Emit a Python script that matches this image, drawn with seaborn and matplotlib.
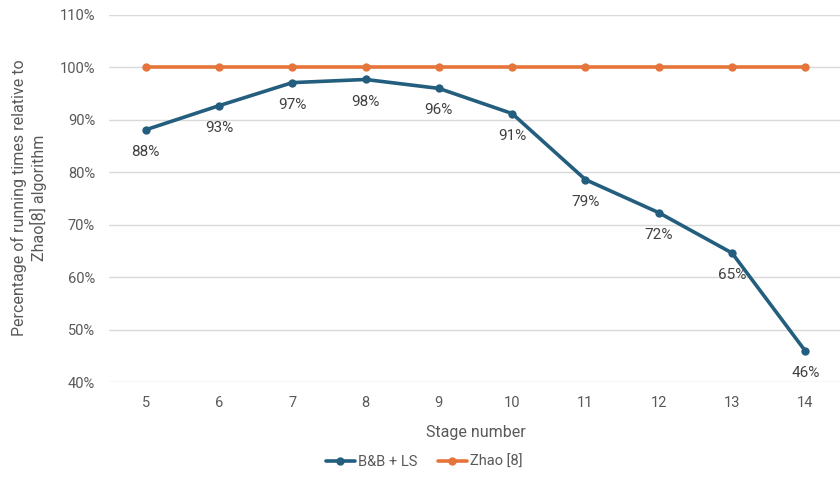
import matplotlib
matplotlib.use("Agg")
import matplotlib.pyplot as plt
import seaborn as sns
import pandas as pd
from matplotlib.ticker import PercentFormatter, FixedLocator

stages = [5, 6, 7, 8, 9, 10, 11, 12, 13, 14]
bb_ls = [0.881, 0.927, 0.971, 0.977, 0.960, 0.912, 0.786, 0.723, 0.646, 0.459]
zhao = [1.0, 1.0, 1.0, 1.0, 1.0, 1.0, 1.0, 1.0, 1.0, 1.0]
series_names = ["B&B + LS", "Zhao [8]"]
colors = ["#245E7F", "#E5753A"]

sns.set_theme(style="white")
plt.rcParams["font.family"] = ["Roboto", "DejaVu Sans"]

df = pd.DataFrame({
    "pos": list(range(len(stages))) * 2,
    "value": bb_ls + zhao,
    "series": [series_names[0]] * len(stages) + [series_names[1]] * len(stages),
})

fig = plt.figure(figsize=(8.4, 4.83), dpi=100)
ax = fig.add_axes([109 / 840, 1 - 382 / 483, (842 - 109) / 840, (382 - 15) / 483])

grid_c = "#D9D9D9"
text_c = "#595959"

for yv in [0.4, 0.5, 0.6, 0.7, 0.8, 0.9, 1.0, 1.1]:
    ax.axhline(yv, color=grid_c, lw=1.0, zorder=0)

sns.lineplot(data=df, x="pos", y="value", hue="series", palette=colors,
             marker="o", markersize=6, markeredgewidth=0, linewidth=2.6,
             ax=ax, legend=False, zorder=3)

for i, v in enumerate(bb_ls):
    ax.text(i, v - 0.042, f"{v * 100:.0f}%", ha="center", va="center",
            fontsize=11, color="#404040", zorder=4)

ax.set_xlim(-0.5, len(stages) - 0.5)
ax.set_ylim(0.4, 1.1)
ax.xaxis.set_major_locator(FixedLocator(range(len(stages))))
ax.set_xticklabels([str(s) for s in stages])
ax.yaxis.set_major_locator(FixedLocator([0.4, 0.5, 0.6, 0.7, 0.8, 0.9, 1.0, 1.1]))
ax.yaxis.set_major_formatter(PercentFormatter(1.0, decimals=0))
ax.tick_params(axis="both", length=0, labelsize=10.5, labelcolor=text_c)
ax.tick_params(axis="y", pad=10)
ax.tick_params(axis="x", pad=10)
for s in ax.spines.values():
    s.set_visible(False)

ax.set_xlabel("Stage number", fontsize=11.5, color=text_c, labelpad=11)
ax.set_ylabel("")
fig.text(29 / 840, 1 - 198 / 483,
         "Percentage of running times relative to\nZhao[8] algorithm",
         rotation=90, ha="center", va="center", fontsize=11.5,
         color=text_c, linespacing=1.15, multialignment="center")

handles = [plt.Line2D([], [], color=c, lw=2.6, marker="o", markersize=6,
                      markeredgewidth=0) for c in colors]
fig.legend(handles, series_names, loc="center", bbox_to_anchor=(424 / 840, 1 - 462 / 483),
           ncol=2, frameon=False, fontsize=10.5, labelcolor=text_c,
           handlelength=2.0, handletextpad=0.2, columnspacing=1.4)

fig.savefig("out.png", dpi=100)
